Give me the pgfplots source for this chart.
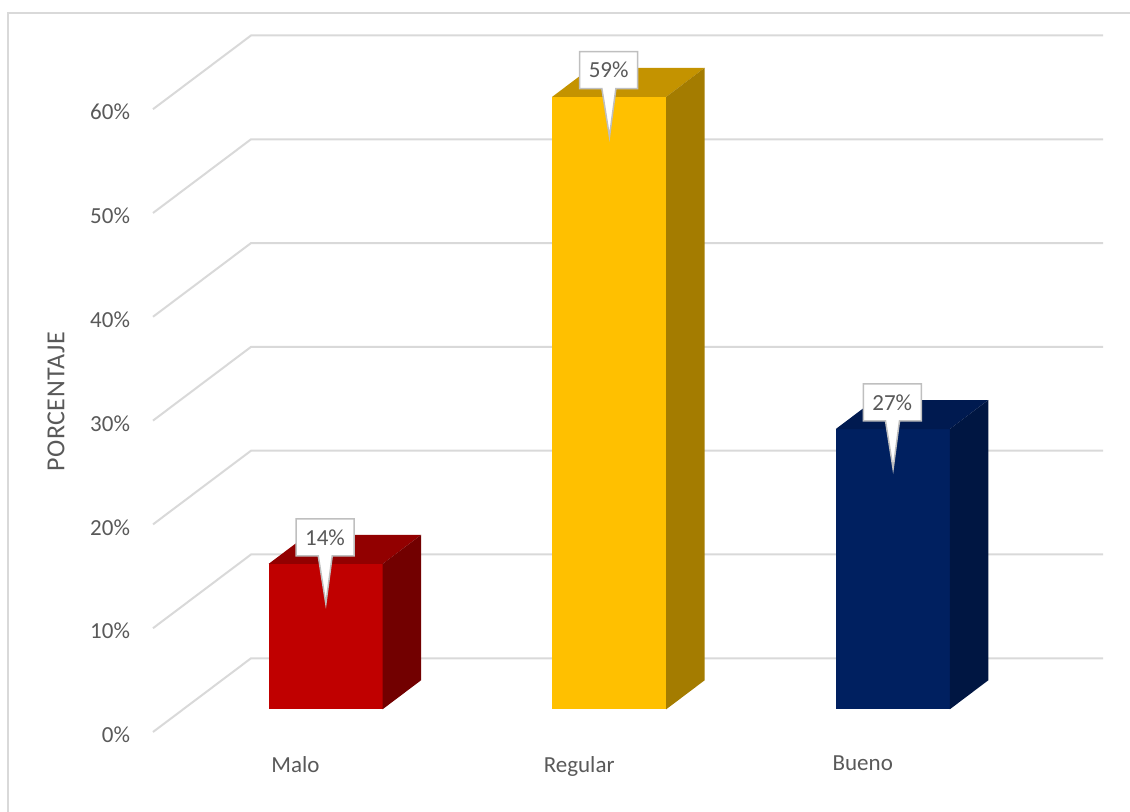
\documentclass[border=0pt]{standalone}
\usepackage{fontspec}
\setmainfont{Carlito}
\usepackage{pgfplots}
\pgfplotsset{compat=1.18}
\usetikzlibrary{shapes.callouts}
\definecolor{gridc}{HTML}{D9D9D9}
\definecolor{txt}{HTML}{595959}
\definecolor{callb}{HTML}{BFBFBF}
\definecolor{mF}{HTML}{C00000}\definecolor{mT}{HTML}{920000}\definecolor{mS}{HTML}{720000}
\definecolor{rF}{HTML}{FFC000}\definecolor{rT}{HTML}{C49300}\definecolor{rS}{HTML}{A47C00}
\definecolor{bF}{HTML}{002060}\definecolor{bT}{HTML}{001A50}\definecolor{bS}{HTML}{001642}
% #1 category index, #2 value (%), #3 front, #4 top, #5 side colour
\newcommand\cuboid[5]{%
  \pgfmathsetmacro\cXl{#1-0.095}%
  \pgfmathsetmacro\cXr{#1+0.307}%
  \pgfmathsetmacro\cXlb{#1-0.095+0.1354}%
  \pgfmathsetmacro\cXrb{#1+0.307+0.1354}%
  \pgfmathsetmacro\cYb{2.19}%
  \pgfmathsetmacro\cYt{2.19+#2}%
  \pgfmathsetmacro\cYbb{2.19+2.79}%
  \pgfmathsetmacro\cYtb{2.19+2.79+#2}%
  \addplot[draw=none, fill=#3] coordinates {(\cXl,\cYb) (\cXr,\cYb) (\cXr,\cYt) (\cXl,\cYt)};
  \addplot[draw=none, fill=#4] coordinates {(\cXl,\cYt) (\cXr,\cYt) (\cXrb,\cYtb) (\cXlb,\cYtb)};
  \addplot[draw=none, fill=#5] coordinates {(\cXr,\cYb) (\cXrb,\cYbb) (\cXrb,\cYtb) (\cXr,\cYt)};
}
\begin{document}
\begin{tikzpicture}
\useasboundingbox (-76.5bp,-40bp) rectangle (488.5bp,366bp);
\draw[gridc, line width=1bp] (-72.5bp,-60bp) rectangle (510bp,359.5bp);
\begin{axis}[
  scale only axis, width=475bp, height=348.25bp,
  xmin=-0.5025, xmax=2.847, ymin=0, ymax=67.1,
  clip=false,
  axis line style={draw=none}, major tick length=0pt, tick style={draw=none},
  xtick={0,1,2}, xticklabels={Malo,Regular,Bueno},
  ytick={0,10,20,30,40,50,60},
  yticklabel={\pgfmathprintnumber{\tick}\%},
  /pgf/number format/assume math mode=true,
  ticklabel style={font=\fontsize{11.5bp}{13.5bp}\selectfont, text=txt},
  xticklabel style={yshift=-8.6bp},
  yticklabel style={xshift=-8bp, yshift=-1.5bp},
  ylabel={PORCENTAJE},
  every axis y label/.style={at={(rel axis cs:0,0.474)}, xshift=-48.5bp, rotate=90, anchor=center,
    font=\fontsize{13bp}{15bp}\selectfont\addfontfeature{LetterSpace=2}, text=txt},
]
% gridlines: diagonal floor/side lines and back wall lines
\addplot[gridc, line width=1bp] coordinates {(-0.5025,0) (-0.157,7.1) (2.847,7.1)};
\addplot[gridc, line width=1bp] coordinates {(-0.5025,10) (-0.157,17.1) (2.847,17.1)};
\addplot[gridc, line width=1bp] coordinates {(-0.5025,20) (-0.157,27.1) (2.847,27.1)};
\addplot[gridc, line width=1bp] coordinates {(-0.5025,30) (-0.157,37.1) (2.847,37.1)};
\addplot[gridc, line width=1bp] coordinates {(-0.5025,40) (-0.157,47.1) (2.847,47.1)};
\addplot[gridc, line width=1bp] coordinates {(-0.5025,50) (-0.157,57.1) (2.847,57.1)};
\addplot[gridc, line width=1bp] coordinates {(-0.5025,60) (-0.157,67.1) (2.847,67.1)};
% bars
\cuboid{0}{14}{mF}{mT}{mS}
\cuboid{1}{59}{rF}{rT}{rS}
\cuboid{2}{27}{bF}{bT}{bS}
% data labels
\addplot[draw=none, mark=none, point meta=explicit,
  nodes near coords={\pgfmathprintnumber{\pgfplotspointmeta}\%},
  every node near coord/.style={rectangle callout, draw=callb, fill=white, line width=0.75bp,
    text=txt, font=\fontsize{11.5bp}{13.5bp}\selectfont, minimum width=29bp, minimum height=18.5bp,
    inner sep=0pt, callout relative pointer={(0.3bp,-24bp)}, callout pointer width=7bp, anchor=center}]
  coordinates {(0.104,18.76) [14] (1.104,63.76) [59] (2.104,31.76) [27]};
\end{axis}
\end{tikzpicture}
\end{document}
